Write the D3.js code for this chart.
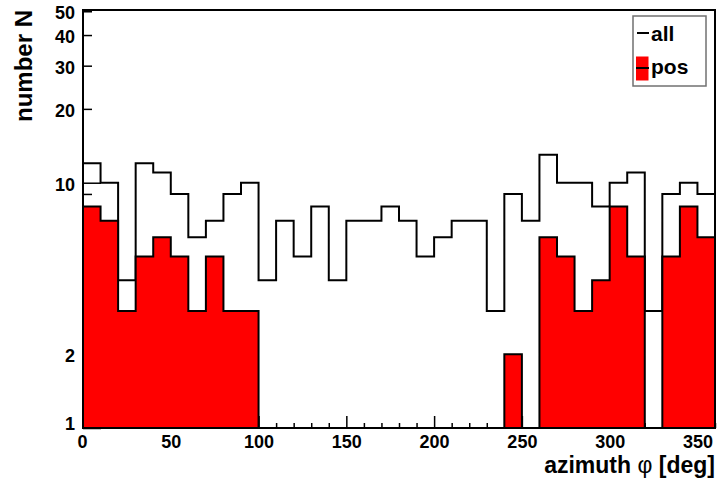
<!DOCTYPE html>
<html>
<head>
<meta charset="utf-8">
<script src="https://cdn.jsdelivr.net/npm/d3@7"></script>
<style>
  html, body { margin: 0; padding: 0; background: #fff; }
  svg { display: block; }
  text { font-family: "Liberation Sans", Arial, Helvetica, sans-serif; font-weight: bold; fill: #000; }
</style>
</head>
<body>
<svg id="chart" width="718" height="486"></svg>
<script>
// ---- data ----
const binEdges = d3.range(0, 370, 10);              // 0..360 step 10 (36 bins)
const allCounts = [12,10,4,12,11,9,6,7,9,10, 4,7,5,8,4,7,7,8,7,5, 6,7,7,3,9,7,13,10,10,8, 10,11,3,9,10,9];
const posCounts = [8,7,3,5,6,5,3,5,3,3, 0,0,0,0,0,0,0,0,0,0, 0,0,0,0,2,0,6,5,3,4, 8,5,0,5,8,6];
const xTickLabels = [0, 50, 100, 150, 200, 250, 300, 350];
const yTickLabels = [1, 2, 10, 20, 30, 40, 50];
const yMinorTicks = [2, 3, 4, 5, 6, 7, 8, 9, 20, 30, 40, 50];
const yMajorTicks = [1, 10];
const legendNames = ["all", "pos"];

// ---- layout ----
const W = 718, H = 486;
const L = 83, R = 715, T = 10, B = 428;
const svg = d3.select("#chart");
svg.append("rect").attr("width", W).attr("height", H).attr("fill", "#fff");

const x = d3.scaleLinear().domain([0, 360]).range([L, R]);
const y = d3.scaleLog().domain([1, 50.6]).range([B, T]);
const yv = v => v > 0 ? y(v) : B;

// ---- axes ticks (drawn under histograms) ----
const gx = svg.append("g").attr("transform", `translate(0,${B})`);
gx.call(d3.axisBottom(x).tickValues(d3.range(0, 361, 10).filter(d => d % 50 !== 0)).tickSize(-5).tickFormat(""));
const gx2 = svg.append("g").attr("transform", `translate(0,${B})`);
gx2.call(d3.axisBottom(x).tickValues(xTickLabels).tickSize(-12).tickFormat(""));

const gy = svg.append("g").attr("transform", `translate(${L},0)`);
gy.call(d3.axisLeft(y).tickValues(yMinorTicks).tickSize(-9).tickFormat(""));
const gy2 = svg.append("g").attr("transform", `translate(${L},0)`);
gy2.call(d3.axisLeft(y).tickValues(yMajorTicks).tickSize(-18).tickFormat(""));

[gx, gx2, gy, gy2].forEach(g => {
  g.select(".domain").remove();
  g.selectAll("line").attr("stroke", "#000").attr("stroke-width", 1.5);
});

// tick labels
const gxl = svg.append("g").attr("transform", `translate(0,${B})`);
gxl.call(d3.axisBottom(x).tickValues(xTickLabels).tickSize(0).tickPadding(7).tickFormat(d3.format("d")));
gxl.select(".domain").remove();
gxl.selectAll("text").attr("font-size", 18).attr("font-family", "'Liberation Sans', Arial, sans-serif")
  .attr("font-weight", "bold").attr("fill", "#000")
  .attr("dx", d => d === 0 ? -1 : 0);

const gyl = svg.append("g").attr("transform", `translate(${L},0)`);
gyl.call(d3.axisLeft(y).tickValues(yTickLabels).tickSize(0).tickPadding(8).tickFormat(d3.format("d")));
gyl.select(".domain").remove();
gyl.selectAll("text").attr("font-size", 18).attr("font-family", "'Liberation Sans', Arial, sans-serif")
  .attr("font-weight", "bold").attr("fill", "#000")
  .attr("dy", d => d === 1 ? "0.1em" : "0.42em");

// ---- histograms ----
function stepPath(counts) {
  const p = d3.path();
  p.moveTo(x(binEdges[0]), B);
  counts.forEach((v, i) => {
    p.lineTo(x(binEdges[i]), yv(v));
    p.lineTo(x(binEdges[i + 1]), yv(v));
  });
  p.lineTo(x(binEdges[counts.length]), B);
  return p.toString();
}

svg.append("path").attr("d", stepPath(allCounts))
  .attr("fill", "none").attr("stroke", "#000").attr("stroke-width", 2);

svg.append("path").attr("d", stepPath(posCounts) + "Z")
  .attr("fill", "#ff0000").attr("stroke", "#000").attr("stroke-width", 2);

// ---- frame ----
svg.append("rect").attr("x", L).attr("y", T).attr("width", R - L).attr("height", B - T)
  .attr("fill", "none").attr("stroke", "#000").attr("stroke-width", 2);

// ---- axis titles ----
const xt = svg.append("text").attr("x", R).attr("y", 473).attr("text-anchor", "end").attr("font-size", 23);
xt.append("tspan").text("azimuth ");
xt.append("tspan").attr("font-weight", "normal").text("φ");
xt.append("tspan").text(" [deg]");

svg.append("text").attr("transform", `translate(32,${T}) rotate(-90)`)
  .attr("text-anchor", "end").attr("font-size", 24).text("number N");

// ---- legend ----
const lg = svg.append("g");
lg.append("rect").attr("x", 633).attr("y", 16).attr("width", 73).attr("height", 70)
  .attr("fill", "#fff").attr("stroke", "#707070").attr("stroke-width", 1.5);
// all entry
lg.append("line").attr("x1", 637).attr("x2", 649).attr("y1", 33).attr("y2", 33)
  .attr("stroke", "#000").attr("stroke-width", 2);
lg.append("text").attr("x", 651).attr("y", 41).attr("font-size", 21).text(legendNames[0]);
// pos entry
lg.append("rect").attr("x", 636).attr("y", 56.5).attr("width", 12.5).attr("height", 24)
  .attr("fill", "#ff0000");
lg.append("line").attr("x1", 636).attr("x2", 649).attr("y1", 68).attr("y2", 68)
  .attr("stroke", "#000").attr("stroke-width", 2);
lg.append("text").attr("x", 651).attr("y", 74).attr("font-size", 21).text(legendNames[1]);
</script>
</body>
</html>
